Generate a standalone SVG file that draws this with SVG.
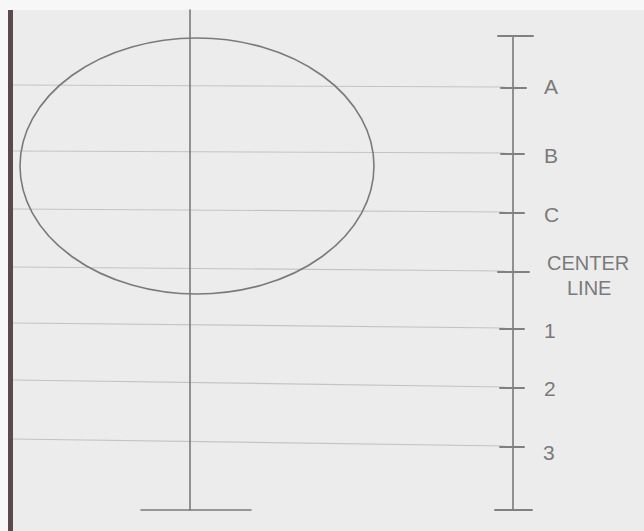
<svg xmlns="http://www.w3.org/2000/svg" width="644" height="531" viewBox="0 0 644 531">
<style>
.rule{stroke:#c4c4c4;stroke-width:1.2}
.pencil{stroke:#7a7a7a;stroke-width:1.6;fill:none;stroke-linecap:round}
.tick{stroke:#808080;stroke-width:2;stroke-linecap:round}
.lbl{font-family:"Liberation Sans",Arial,sans-serif;font-size:21px;fill:#7a7a7a}
.small{font-size:20px}
</style>
<rect x="0" y="0" width="644" height="531" fill="#f7f7f7"/>
<rect x="13" y="10" width="631" height="521" fill="#ececec"/>
<rect x="8" y="10" width="5" height="521" fill="#5a4a4e"/>
<g id="ruled-lines">
<line class="rule" x1="13" y1="85" x2="505" y2="87"/>
<line class="rule" x1="13" y1="151" x2="505" y2="153"/>
<line class="rule" x1="13" y1="209" x2="505" y2="212"/>
<line class="rule" x1="13" y1="267" x2="505" y2="271"/>
<line class="rule" x1="13" y1="323" x2="505" y2="328"/>
<line class="rule" x1="13" y1="380" x2="505" y2="387"/>
<line class="rule" x1="13" y1="439" x2="505" y2="446"/>
</g>
<g id="head-oval">
<ellipse class="pencil" cx="197" cy="166" rx="177" ry="128" stroke="#9a9a9a" stroke-width="2"/>
</g>
<g id="center-axis">
<line class="pencil" x1="190" y1="10" x2="190" y2="510" stroke-width="1.4"/>
<line class="pencil" x1="141" y1="510" x2="251" y2="510" stroke-width="2.2"/>
</g>
<g id="ruler">
<line class="pencil" x1="513" y1="36" x2="513" y2="510" stroke-width="1.4"/>
<line class="tick" x1="498" y1="36" x2="533" y2="36"/>
<line class="tick" x1="501" y1="88" x2="526" y2="88"/>
<line class="tick" x1="501" y1="154" x2="524" y2="154"/>
<line class="tick" x1="500" y1="213" x2="524" y2="213"/>
<line class="tick" x1="498" y1="272" x2="529" y2="272"/>
<line class="tick" x1="500" y1="329" x2="524" y2="329"/>
<line class="tick" x1="500" y1="388" x2="524" y2="388"/>
<line class="tick" x1="500" y1="447" x2="524" y2="447"/>
<line class="tick" x1="495" y1="510" x2="532" y2="510"/>
</g>
<g id="labels">
<text class="lbl" x="544" y="94">A</text>
<text class="lbl" x="544" y="163">B</text>
<text class="lbl" x="544" y="222">C</text>
<text class="lbl small" x="547" y="270">CENTER</text>
<text class="lbl small" x="567" y="295">LINE</text>
<text class="lbl" x="544" y="338">1</text>
<text class="lbl" x="544" y="396">2</text>
<text class="lbl" x="543" y="460">3</text>
</g>
</svg>
